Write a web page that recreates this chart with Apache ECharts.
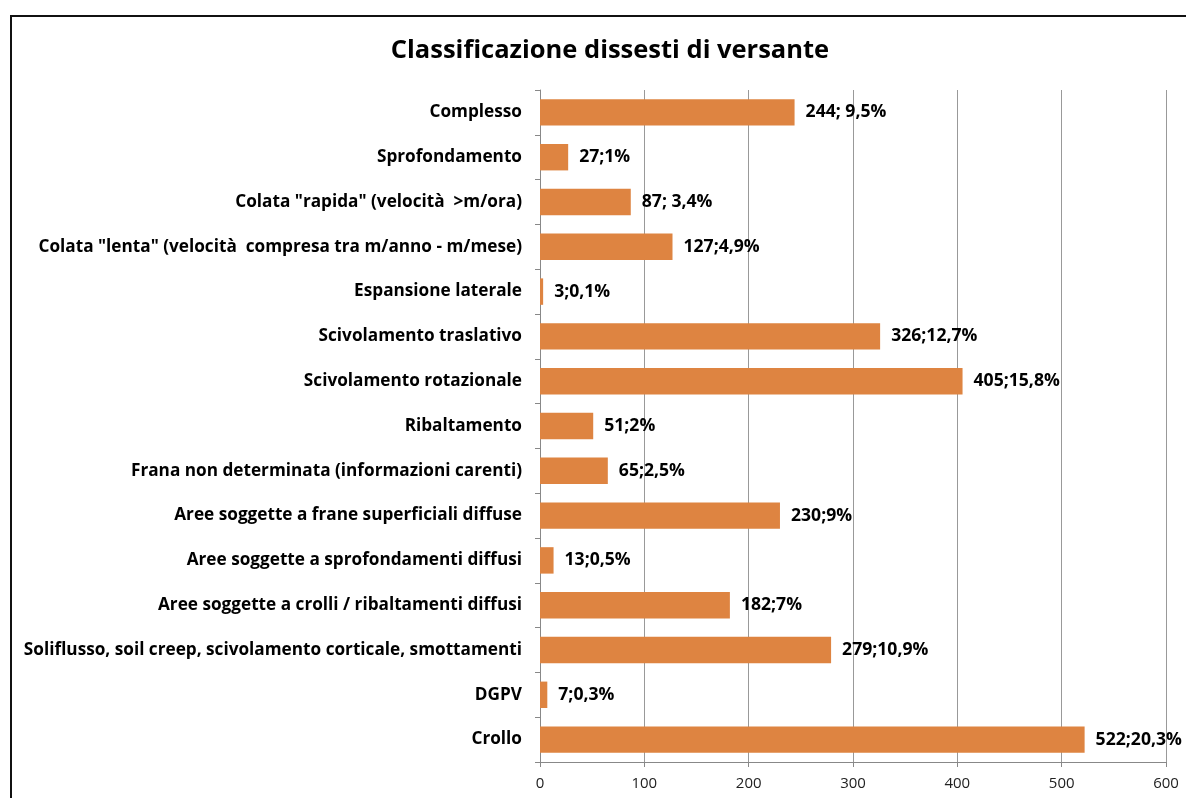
<!DOCTYPE html>
<html>
<head>
<meta charset="utf-8">
<script src="https://cdn.jsdelivr.net/npm/echarts@6/dist/echarts.min.js"></script>
<style>
  html, body { margin: 0; padding: 0; background: #fff; }
  #frame {
    position: absolute; left: 10px; top: 15px; width: 1200px; height: 800px;
    border-top: 2px solid #111; border-left: 2px solid #111;
  }
  #chart { position: absolute; left: 0; top: 0; width: 1186px; height: 798px; }
</style>
</head>
<body>
<div id="frame"></div>
<div id="chart"></div>
<script>
// categorie dall'alto verso il basso
const categories = [
  'Complesso',
  'Sprofondamento',
  'Colata "rapida" (velocità  >m/ora)',
  'Colata "lenta" (velocità  compresa tra m/anno - m/mese)',
  'Espansione laterale',
  'Scivolamento traslativo',
  'Scivolamento rotazionale',
  'Ribaltamento',
  'Frana non determinata (informazioni carenti)',
  'Aree soggette a frane superficiali diffuse',
  'Aree soggette a sprofondamenti diffusi',
  'Aree soggette a crolli / ribaltamenti diffusi',
  'Soliflusso, soil creep, scivolamento corticale, smottamenti',
  'DGPV',
  'Crollo'
];
const counts = [244, 27, 87, 127, 3, 326, 405, 51, 65, 230, 13, 182, 279, 7, 522];
const barLabels = [
  '244; 9,5%', '27;1%', '87; 3,4%', '127;4,9%', '3;0,1%', '326;12,7%', '405;15,8%',
  '51;2%', '65;2,5%', '230;9%', '13;0,5%', '182;7%', '279;10,9%', '7;0,3%', '522;20,3%'
];
const xTicks = [0, 100, 200, 300, 400, 500, 600];

const chart = echarts.init(document.getElementById('chart'));
const font = '"Open Sans", sans-serif';

chart.setOption({
  animation: false,
  title: {
    text: 'Classificazione dissesti di versante',
    left: 605, top: 33, textAlign: 'center',
    textStyle: { fontFamily: font, fontWeight: 'bold', fontSize: 25.5, color: '#000' }
  },
  grid: { left: 540, right: 20, top: 90, bottom: 36 },
  xAxis: {
    type: 'value',
    min: xTicks[0], max: xTicks[xTicks.length - 1], interval: 100,
    axisLine: { show: true, lineStyle: { color: '#888', width: 1 } },
    axisTick: { show: true, length: 5, lineStyle: { color: '#888' } },
    splitLine: { show: true, lineStyle: { color: '#999', width: 1 } },
    axisLabel: { fontFamily: font, fontSize: 15, color: '#222', margin: 14 }
  },
  yAxis: {
    type: 'category',
    inverse: true,
    data: categories,
    axisLine: { show: true, lineStyle: { color: '#888', width: 1 } },
    axisTick: { show: true, length: 5, lineStyle: { color: '#888' } },
    axisLabel: { fontFamily: font, fontWeight: 'bold', fontSize: 17.2, color: '#000', margin: 18 }
  },
  series: [{
    type: 'bar',
    data: counts,
    barWidth: '59%',
    itemStyle: { color: '#DE8441' },
    label: {
      show: true,
      position: 'right',
      distance: 11,
      fontFamily: font, fontWeight: 'bold', fontSize: 17.6, color: '#000',
      formatter: p => barLabels[p.dataIndex]
    }
  }]
});
</script>
</body>
</html>
